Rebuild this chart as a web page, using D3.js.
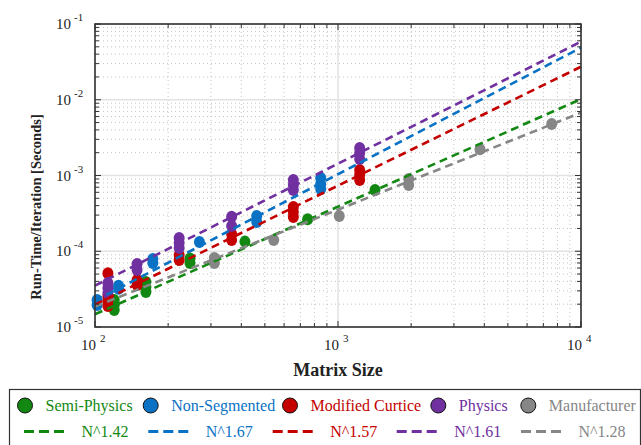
<!DOCTYPE html>
<html>
<head>
<meta charset="utf-8">
<script src="https://cdn.jsdelivr.net/npm/d3@7"></script>
<style>
  html, body { margin: 0; padding: 0; background: #fff; }
  svg { display: block; }
  svg text { font-family: "Liberation Serif", "Times New Roman", Times, serif; }
</style>
</head>
<body>
<div id="chart"></div>
<script>
'use strict';

var width = 641;
var height = 445;
var font = '"Liberation Serif", "Times New Roman", Times, serif';

var seriesNames = ['Semi-Physics', 'Non-Segmented', 'Modified Curtice', 'Physics', 'Manufacturer'];
var seriesColors = ['#128812', '#0a72c4', '#c40000', '#7030a0', '#868686'];
var fitLabels = ['N^1.42', 'N^1.67', 'N^1.57', 'N^1.61', 'N^1.28'];
var fitExponents = [1.42, 1.67, 1.57, 1.61, 1.28];
// fitted run-time at N = 10^4
var fitAtMax = [0.0102, 0.0486, 0.0273, 0.0584, 0.00675];

// [matrix size, seconds]
var semiPhysics = [[120, 2.27e-5], [120, 1.95e-5], [120, 1.68e-5], [162, 3.93e-5], [162, 3.37e-5], [162, 2.9e-5], [246, 8.0e-5], [246, 7.0e-5], [414, 1.34e-4], [750, 2.64e-4], [1420, 6.43e-4]];
var nonSegmented = [[102, 2.27e-5], [102, 1.95e-5], [125, 3.5e-5], [125, 3.2e-5], [173, 7.9e-5], [173, 7.0e-5], [269, 1.32e-4], [463, 2.92e-4], [463, 2.43e-4], [849, 9.27e-4], [849, 7.73e-4], [849, 6.64e-4]];
var modifiedCurtice = [[113, 5.12e-5], [113, 2.57e-5], [113, 2.2e-5], [113, 1.89e-5], [149, 4.17e-5], [149, 3.58e-5], [222, 8.92e-5], [222, 7.66e-5], [365, 1.69e-4], [365, 1.41e-4], [655, 3.84e-4], [655, 3.3e-4], [655, 2.83e-4], [1228, 1.18e-3], [1228, 1.02e-3], [1228, 8.73e-4]];
var physics = [[113, 3.81e-5], [113, 3.27e-5], [113, 2.81e-5], [149, 6.79e-5], [149, 5.66e-5], [222, 1.5e-4], [222, 1.29e-4], [222, 1.1e-4], [365, 2.86e-4], [365, 2.15e-4], [655, 8.73e-4], [655, 7.5e-4], [655, 6.44e-4], [1228, 2.31e-3], [1228, 1.98e-3], [1228, 1.65e-3]];
var manufacturer = [[310, 8.15e-5], [310, 7.0e-5], [544, 1.41e-4], [1012, 2.92e-4], [1954, 9.0e-4], [1954, 7.5e-4], [3840, 2.22e-3], [7575, 4.79e-3]];
var seriesData = [semiPhysics, nonSegmented, modifiedCurtice, physics, manufacturer];

var xDomain = [1e2, 1e4];
var yDomain = [1e-5, 1e-1];
var xDecades = [1e2, 1e3, 1e4];
var yDecades = [1e-5, 1e-4, 1e-3, 1e-2, 1e-1];

var plot = { left: 95, top: 24, right: 581, bottom: 327 };

var x = d3.scaleLog().domain(xDomain).range([plot.left, plot.right]);
var y = d3.scaleLog().domain(yDomain).range([plot.bottom, plot.top]);

var svg = d3.select('#chart').append('svg').attr('width', width).attr('height', height).attr('font-family', font);
svg.append('rect').attr('width', width).attr('height', height).attr('fill', '#fff');

function isDecade(v) {
  var l = Math.log10(v);
  return Math.abs(l - Math.round(l)) < 1e-9;
}

// Grid
var grid = svg.append('g').attr('id', 'grid');
x.ticks().forEach(function (v) {
  var major = isDecade(v);
  grid.append('line').attr('x1', x(v)).attr('x2', x(v)).attr('y1', plot.top).attr('y2', plot.bottom)
    .attr('stroke', major ? '#e2e2e2' : '#c4c4c4').attr('stroke-width', major ? 1.5 : 1).attr('stroke-dasharray', major ? null : '1,3');
});
y.ticks().forEach(function (v) {
  var major = isDecade(v);
  grid.append('line').attr('x1', plot.left).attr('x2', plot.right).attr('y1', y(v)).attr('y2', y(v))
    .attr('stroke', major ? '#e2e2e2' : '#c4c4c4').attr('stroke-width', major ? 1.5 : 1).attr('stroke-dasharray', major ? null : '1,3');
});

// Markers
seriesData.forEach(function (data, i) {
  svg.append('g').attr('class', 'points').selectAll('ellipse').data(data).enter().append('ellipse')
    .attr('cx', function (d) { return x(d[0]); })
    .attr('cy', function (d) { return y(d[1]); })
    .attr('rx', 5.5).attr('ry', 6)
    .attr('fill', seriesColors[i]);
});

// Fit lines
seriesData.forEach(function (data, i) {
  var line = d3.line().x(function (n) { return x(n); }).y(function (n) { return y(fitAtMax[i] * Math.pow(n / xDomain[1], fitExponents[i])); });
  svg.append('path').attr('d', line(xDomain)).attr('fill', 'none').attr('stroke', seriesColors[i]).attr('stroke-width', 2.6).attr('stroke-dasharray', '8,5');
});

// Axes box and ticks
var axes = svg.append('g').attr('id', 'axes');
x.ticks().forEach(function (v) {
  var len = isDecade(v) ? 6 : 4;
  axes.append('line').attr('x1', x(v)).attr('x2', x(v)).attr('y1', plot.bottom).attr('y2', plot.bottom - len).attr('stroke', '#333');
  axes.append('line').attr('x1', x(v)).attr('x2', x(v)).attr('y1', plot.top).attr('y2', plot.top + len).attr('stroke', '#333');
});
y.ticks().forEach(function (v) {
  var len = isDecade(v) ? 6 : 4;
  axes.append('line').attr('x1', plot.left).attr('x2', plot.left + len).attr('y1', y(v)).attr('y2', y(v)).attr('stroke', '#333');
  axes.append('line').attr('x1', plot.right).attr('x2', plot.right - len).attr('y1', y(v)).attr('y2', y(v)).attr('stroke', '#333');
});
axes.append('rect').attr('x', plot.left).attr('y', plot.top).attr('width', plot.right - plot.left).attr('height', plot.bottom - plot.top)
  .attr('fill', 'none').attr('stroke', '#333').attr('stroke-width', 1.6);

// Tick labels
yDecades.forEach(function (v) {
  var e = Math.round(Math.log10(v));
  axes.append('text').attr('x', 71).attr('y', y(v) + 5).attr('text-anchor', 'end').attr('font-family', font).attr('font-size', 15).attr('fill', '#222').text('10');
  axes.append('text').attr('x', 74).attr('y', y(v) - 3).attr('text-anchor', 'start').attr('font-family', font).attr('font-size', 11).attr('fill', '#222').text(String(e));
});
xDecades.forEach(function (v) {
  var e = Math.round(Math.log10(v));
  axes.append('text').attr('x', x(v) + 1).attr('y', 350).attr('text-anchor', 'end').attr('font-family', font).attr('font-size', 15).attr('fill', '#222').text('10');
  axes.append('text').attr('x', x(v) + 5).attr('y', 342).attr('text-anchor', 'start').attr('font-family', font).attr('font-size', 11).attr('fill', '#222').text(String(e));
});

// Axis titles
svg.append('text').attr('x', (plot.left + plot.right) / 2).attr('y', 376).attr('text-anchor', 'middle').attr('font-family', font).attr('font-size', 18).attr('font-weight', 'bold').attr('fill', '#222').text('Matrix Size');
svg.append('text').attr('transform', 'translate(41,207) rotate(-90)').attr('text-anchor', 'middle').attr('font-family', font).attr('font-size', 14.5).attr('font-weight', 'bold').attr('fill', '#222').text('Run-Time/Iteration [Seconds]');

// Legend
var legendMarkerX = [25, 150.7, 290, 438.3, 528.3];
var legendFitX = [24, 148.3, 272.7, 396.7, 521];
var legend = svg.append('g').attr('id', 'legend');
legend.append('rect').attr('x', 9.5).attr('y', 389.5).attr('width', 631).attr('height', 70).attr('fill', '#fff').attr('stroke', '#333').attr('stroke-width', 1.2);
seriesNames.forEach(function (name, i) {
  legend.append('circle').attr('cx', legendMarkerX[i]).attr('cy', 405.5).attr('r', 7.5).attr('fill', seriesColors[i]).attr('stroke', '#111').attr('stroke-width', 1);
  legend.append('text').attr('x', legendMarkerX[i] + 20.5).attr('y', 411).attr('font-family', font).attr('font-size', 16).attr('fill', seriesColors[i]).text(name);
  legend.append('line').attr('x1', legendFitX[i]).attr('x2', legendFitX[i] + 42.5).attr('y1', 431.5).attr('y2', 431.5)
    .attr('stroke', seriesColors[i]).attr('stroke-width', 3).attr('stroke-dasharray', '10,5');
  legend.append('text').attr('x', legendFitX[i] + 57.5).attr('y', 437).attr('font-family', font).attr('font-size', 16).attr('fill', seriesColors[i]).text(fitLabels[i]);
});
</script>
</body>
</html>
